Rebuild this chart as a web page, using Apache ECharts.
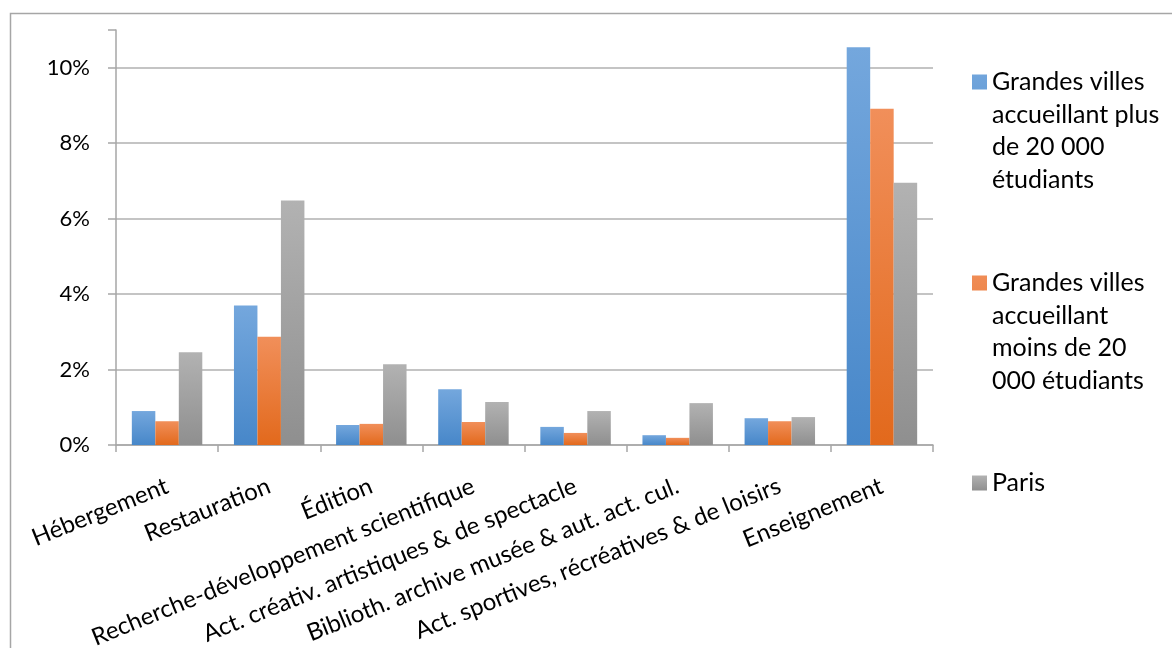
<!DOCTYPE html>
<html>
<head>
<meta charset="utf-8">
<script src="https://cdn.jsdelivr.net/npm/echarts@6/dist/echarts.min.js"></script>
<style>
html,body{margin:0;padding:0;background:#fff;}
#c{width:1172px;height:648px;}
</style>
</head>
<body>
<div id="c"></div>
<script>
const categories = ["Hébergement", "Restauration", "Édition", "Recherche-développement scientifique", "Act. créativ. artistiques & de spectacle", "Biblioth. archive musée & aut. act. cul.", "Act. sportives, récréatives & de loisirs", "Enseignement"];
const seriesNames = ["Grandes villes accueillant plus de 20 000 étudiants", "Grandes villes accueillant moins de 20 000 étudiants", "Paris"];
const legendLines = [["Grandes villes", "accueillant plus", "de 20 000", "étudiants"], ["Grandes villes", "accueillant", "moins de 20", "000 étudiants"], ["Paris"]];
const bigCities = [0.90, 3.70, 0.53, 1.48, 0.48, 0.26, 0.71, 10.54];
const smallCities = [0.63, 2.87, 0.56, 0.61, 0.32, 0.19, 0.63, 8.91];
const paris = [2.46, 6.48, 2.14, 1.14, 0.90, 1.11, 0.74, 6.95];
const yTicks = [0, 2, 4, 6, 8, 10];

const FONT = 'Lato';
const LH = 32.5;
const chart = echarts.init(document.getElementById('c'), null, {renderer: 'canvas'});

function grad(top, bottom) {
  return new echarts.graphic.LinearGradient(0, 0, 0, 1, [{offset: 0, color: top}, {offset: 1, color: bottom}]);
}
const colors = [grad('#74a7dd', '#4787c9'), grad('#f18f5a', '#e2691c'), grad('#b2b2b2', '#8f8f8f')];
const flatColors = ['#5b9bd5', '#ed7d31', '#a5a5a5'];
const values = [bigCities, smallCities, paris];

// square icon placed at the first text line of a 4-line legend entry
const tallIcon = 'path://M0,0 M0,8.75H15V23.75H0Z M15,130';

function fmt(name) {
  const i = seriesNames.indexOf(name);
  return legendLines[i].join('\n');
}
const legendCommon = {
  orient: 'vertical',
  left: 972,
  padding: 0,
  itemWidth: 15,
  selectedMode: false,
  formatter: fmt,
  textStyle: {fontFamily: FONT, fontSize: 25, color: '#000', lineHeight: LH}
};

chart.setOption({
  animation: false,
  backgroundColor: '#fff',
  color: flatColors,
  graphic: [{
    type: 'rect', shape: {x: 10.5, y: 13.5, width: 1200, height: 700},
    style: {fill: 'none', stroke: '#a6a6a6', lineWidth: 1.5}, silent: true
  }],
  legend: [
    Object.assign({}, legendCommon, {
      top: 65.75, itemHeight: 130, itemGap: 71, icon: tallIcon,
      data: [seriesNames[0], seriesNames[1]]
    }),
    Object.assign({}, legendCommon, {
      top: 466.75, itemHeight: 15, icon: 'rect',
      data: [seriesNames[2]]
    })
  ],
  grid: {left: 116, right: 239, top: 30, bottom: 203, containLabel: false, outerBoundsMode: 'none'},
  xAxis: {
    type: 'category',
    data: categories,
    axisLine: {show: true, lineStyle: {color: '#a6a6a6', width: 1.5}},
    axisTick: {show: true, length: 7, lineStyle: {color: '#a6a6a6', width: 1.5}},
    axisLabel: {rotate: 22, interval: 0, fontFamily: FONT, fontSize: 24, color: '#000', margin: 40}
  },
  yAxis: {
    type: 'value',
    min: 0, max: 11, interval: 2,
    axisLine: {show: true, lineStyle: {color: '#a6a6a6', width: 1.5}},
    axisTick: {show: true, length: 8, lineStyle: {color: '#a6a6a6', width: 1.5}},
    axisLabel: {
      fontFamily: FONT, fontSize: 22, color: '#000', margin: 26,
      formatter: function (v) { return yTicks.indexOf(v) >= 0 ? v + '%' : ''; }
    },
    splitLine: {show: true, lineStyle: {color: ['#b0b0b0', '#b0b0b0', '#b0b0b0', '#b0b0b0', '#b0b0b0', '#b0b0b0', 'rgba(0,0,0,0)'], width: 1.5}}
  },
  series: values.map(function (d, i) {
    return {
      name: seriesNames[i],
      type: 'bar',
      data: d,
      barGap: '0%',
      barCategoryGap: '31%',
      itemStyle: {color: colors[i]}
    };
  })
});
</script>
</body>
</html>
